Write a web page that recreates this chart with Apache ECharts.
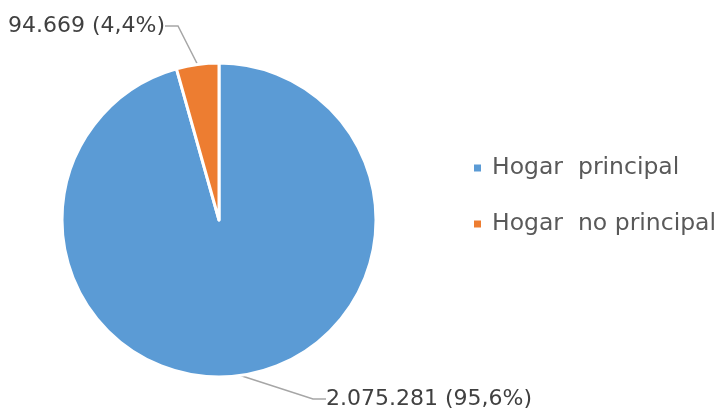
<!DOCTYPE html>
<html>
<head>
<meta charset="utf-8">
<script src="https://cdn.jsdelivr.net/npm/echarts@6/dist/echarts.min.js"></script>
<style>html,body{margin:0;padding:0;background:#fff;}#c{width:721px;height:409px;}</style>
</head>
<body>
<div id="c"></div>
<script>
var categories = ['Hogar  principal', 'Hogar  no principal'];
var values = [2075281, 94669];
var labelTexts = ['2.075.281 (95,6%)', '94.669 (4,4%)'];
var colors = ['#5B9BD5', '#ED7D31'];

var chart = echarts.init(document.getElementById('c'), null, {renderer: 'canvas'});
var data = categories.map(function (c, i) {
  return {name: c, value: values[i], itemStyle: {color: colors[i]}};
});
var labelPos = [
  {x: 321, y: 399, align: 'left'},
  {x: 170, y: 26, align: 'right'}
];
chart.setOption({
  animation: false,
  legend: {
    orient: 'vertical',
    left: 467,
    top: 151,
    itemWidth: 9,
    itemHeight: 9,
    itemGap: 32,
    icon: 'rect',
    data: categories,
    textStyle: {fontFamily: 'DejaVu Sans', fontSize: 23.5, color: '#595959', padding: [0, 0, 0, 5]}
  },
  series: [{
    type: 'pie',
    center: [219, 220],
    radius: [0, 157],
    startAngle: 90,
    clockwise: true,
    itemStyle: {borderColor: '#ffffff', borderWidth: 3},
    label: {
      show: true,
      overflow: 'none',
      padding: [0, 5, 0, 5],
      formatter: function (p) { return labelTexts[p.dataIndex]; },
      fontFamily: 'DejaVu Sans',
      fontSize: 22,
      color: '#404040'
    },
    labelLine: {show: true, length: 20, length2: 13, lineStyle: {color: '#A6A6A6', width: 1.5}},
    labelLayout: function (p) {
      var lp = labelPos[p.dataIndex];
      return {x: lp.x, y: lp.y, align: lp.align, verticalAlign: 'middle'};
    },
    emphasis: {disabled: true},
    data: data
  }]
});
</script>
</body>
</html>
